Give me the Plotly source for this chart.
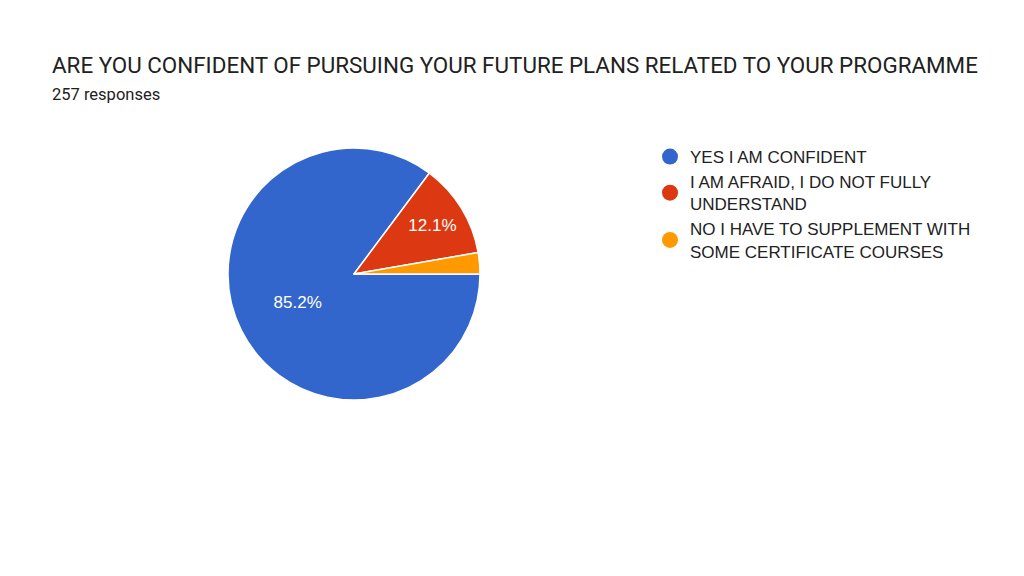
import plotly.graph_objects as go

# survey answers and response counts (257 responses)
answers = [
    "YES I AM CONFIDENT",
    "I AM AFRAID, I DO NOT FULLY<br>UNDERSTAND",
    "NO I HAVE TO SUPPLEMENT WITH<br>SOME CERTIFICATE COURSES",
]
counts = [219, 31, 7]
colors = ["#3366CC", "#DC3912", "#FF9900"]
# small slices get no label, like google forms does
label_tpl = ["%{percent:.1%}", "%{percent:.1%}", ""]

title_text = "ARE YOU CONFIDENT OF PURSUING YOUR FUTURE PLANS RELATED TO YOUR PROGRAMME"
subtitle_text = "257 responses"

W, H = 1024, 576
OFF = 8  # page body margin
cx, cy, r = 354 - OFF, 274 - OFF, 126

fig = go.Figure()

fig.add_trace(
    go.Pie(
        labels=answers,
        values=counts,
        marker=dict(colors=colors, line=dict(color="white", width=1.5)),
        sort=False,
        direction="clockwise",
        rotation=90,
        texttemplate=label_tpl,
        textposition="inside",
        insidetextorientation="horizontal",
        textfont=dict(family="Liberation Sans, Arial", size=17, color="white"),
        showlegend=False,
        hoverinfo="label+percent",
        domain=dict(
            x=[(cx - r) / W, (cx + r) / W],
            y=[1 - (cy + r) / H, 1 - (cy - r) / H],
        ),
    )
)

# legend entries with round markers
for name, c in zip(answers, colors):
    fig.add_trace(
        go.Scatter(
            x=[None],
            y=[None],
            mode="markers",
            name=name,
            marker=dict(symbol="circle", size=16, color=c),
        )
    )

fig.update_layout(
    width=W,
    height=H,
    margin=dict(l=0, r=0, t=0, b=0),
    paper_bgcolor="white",
    plot_bgcolor="white",
    xaxis=dict(visible=False),
    yaxis=dict(visible=False),
    showlegend=True,
    legend=dict(
        x=(650 - OFF) / W,
        y=1 - (139 - OFF) / H,
        xanchor="left",
        yanchor="top",
        font=dict(family="Liberation Sans, Arial", size=17, color="#222222"),
        bgcolor="rgba(0,0,0,0)",
        tracegroupgap=0,
    ),
    annotations=[
        dict(
            text=title_text,
            x=(50 - OFF) / W,
            y=1 - (65 - OFF) / H,
            xref="paper",
            yref="paper",
            xanchor="left",
            yanchor="middle",
            showarrow=False,
            font=dict(family="Roboto", size=22.4, color="#212121"),
        ),
        dict(
            text=subtitle_text,
            x=(50 - OFF) / W,
            y=1 - (95 - OFF) / H,
            xref="paper",
            yref="paper",
            xanchor="left",
            yanchor="middle",
            showarrow=False,
            font=dict(family="Roboto", size=16.5, color="#212121"),
        ),
    ],
)

fig.write_html("out.html")
